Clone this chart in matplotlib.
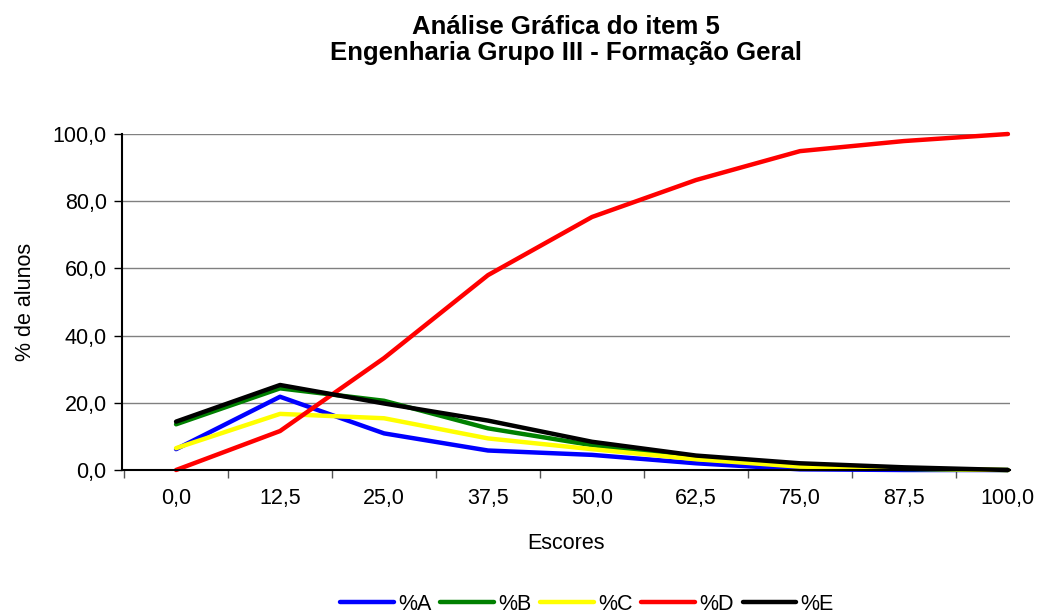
import numpy as np
import matplotlib.pyplot as plt

# escores (categorias do eixo x)
escores = ["0,0", "12,5", "25,0", "37,5", "50,0", "62,5", "75,0", "87,5", "100,0"]

pct_a = [6.2, 21.8, 10.9, 5.8, 4.5, 2.0, 0.2, 0.0, 0.0]
pct_b = [13.6, 24.3, 20.6, 12.4, 7.4, 3.8, 1.5, 0.3, 0.0]
pct_c = [6.5, 16.7, 15.4, 9.4, 6.2, 3.2, 1.0, 0.4, 0.0]
pct_d = [0.0, 11.6, 33.3, 58.0, 75.3, 86.3, 94.9, 97.9, 100.0]
pct_e = [14.4, 25.3, 19.8, 14.7, 8.4, 4.3, 2.0, 0.8, 0.0]

plt.rcParams['font.family'] = ['Liberation Sans', 'DejaVu Sans']

fig = plt.figure(figsize=(10.52, 6.15), dpi=100)
ax = fig.add_axes([122 / 1052, 1 - 470 / 615, (1010 - 122) / 1052, (470 - 134) / 615])

x = np.arange(len(escores))
series = [("%A", pct_a, "#0000ff"), ("%B", pct_b, "#008000"), ("%C", pct_c, "#ffff00"),
          ("%D", pct_d, "#ff0000"), ("%E", pct_e, "#000000")]
for nome, vals, cor in series:
    ax.plot(x, vals, color=cor, lw=3.2, label=nome, solid_capstyle="round", clip_on=False)

ax.set_xlim(-0.52, 8.02)
ax.set_ylim(0, 100)
ax.set_yticks(np.arange(0, 101, 20))
ax.set_yticklabels([f"{v:.1f}".replace(".", ",") for v in np.arange(0, 101, 20)], fontsize=15.5)
ax.set_xticks(x)
ax.set_xticklabels(escores, fontsize=15.5)
ax.set_xticks(np.arange(-0.5, 8, 1), minor=True)
ax.tick_params(axis="x", which="major", length=0, pad=13)
ax.tick_params(axis="x", which="minor", length=6, width=1, color="#555555")
ax.tick_params(axis="y", length=6, width=1, pad=5)
ax.yaxis.grid(True, color="#808080", lw=1)
ax.set_axisbelow(True)
for s in ("top", "right"):
    ax.spines[s].set_visible(False)
ax.spines["left"].set_linewidth(1.5)
ax.spines["bottom"].set_linewidth(1.5)

ax.set_xlabel("Escores", fontsize=15.5, labelpad=17)
ax.set_ylabel("% de alunos", fontsize=15.5, labelpad=12)

fig.text(566 / 1052, 1 - 40 / 615, "Análise Gráfica do item 5\nEngenharia Grupo III - Formação Geral",
         ha="center", va="center", fontsize=18.5, fontweight="bold", linespacing=1.1)

fig.legend(loc="center", bbox_to_anchor=(587 / 1052, 1 - 604 / 615), ncol=5, frameon=False,
           fontsize=15.5, handlelength=2.5, handletextpad=0.2, columnspacing=0.4,
           borderaxespad=0, borderpad=0)

fig.savefig("out.png", dpi=100)
